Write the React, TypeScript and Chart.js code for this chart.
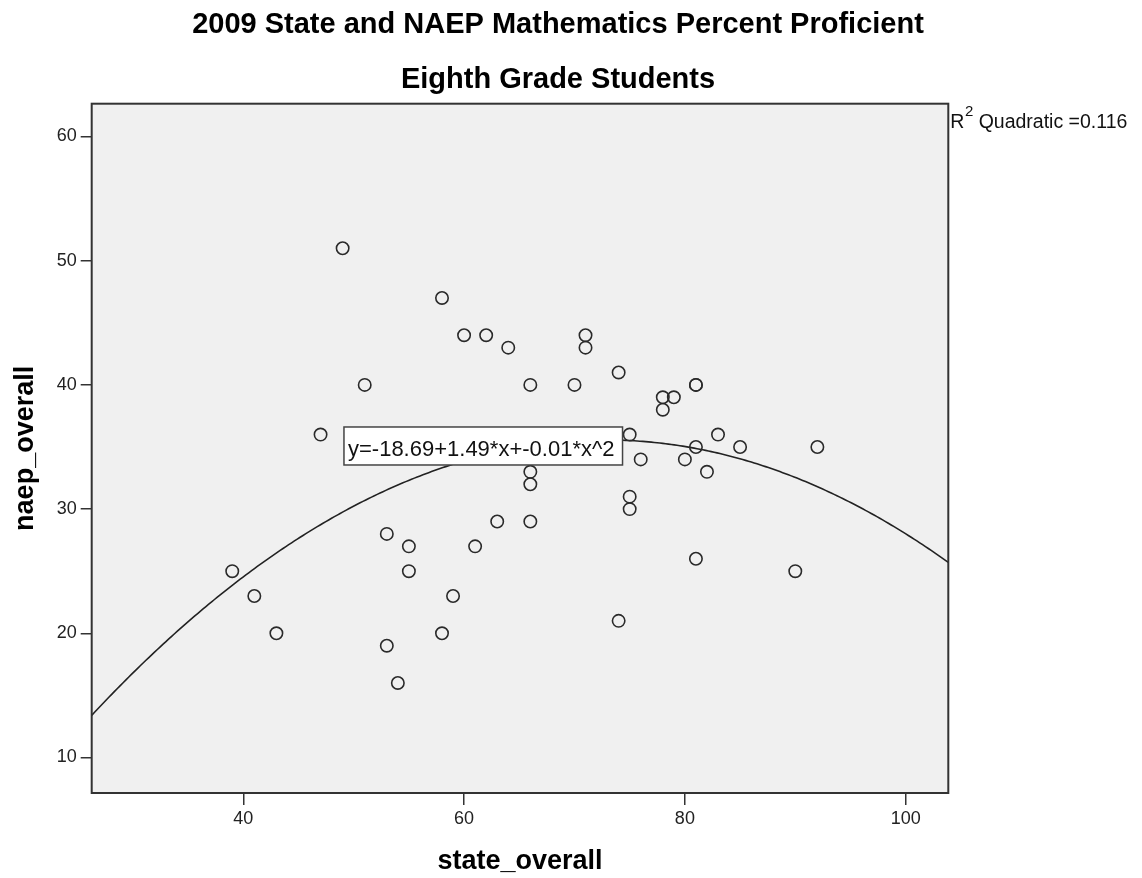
import { useEffect, useRef } from "react";
import { Chart, registerables } from "chart.js";

Chart.register(...registerables);

// ---- data ----
const STATE_OVERALL = [
  39, 41, 43, 47, 49, 51, 53, 53, 54, 55, 55, 58, 58, 59, 60, 61, 62, 63, 64, 66, 66, 66, 66,
  70, 71, 71, 74, 74, 75, 75, 75, 76, 78, 78, 79, 80, 81, 81, 81, 81, 82, 83, 85, 90, 92,
];
const NAEP_OVERALL = [
  25, 23, 20, 36, 51, 40, 28, 19, 16, 27, 25, 47, 20, 23, 44, 27, 44, 29, 43, 40, 33, 32, 29,
  40, 44, 43, 41, 21, 36, 31, 30, 34, 39, 38, 39, 34, 40, 40, 35, 26, 33, 36, 35, 25, 35,
];
const X_TICKS = [40, 60, 80, 100];
const Y_TICKS = [10, 20, 30, 40, 50, 60];
const X_RANGE = [26.27, 103.86];
const Y_RANGE = [7.14, 62.64];
// quadratic fit coefficients (y = a + b*x + c*x^2)
const FIT_A = -18.69;
const FIT_B = 1.49;
const FIT_C = -0.01023;
const TITLE_LINES = ["2009 State and NAEP Mathematics Percent Proficient", "Eighth Grade Students"];
const X_TITLE = "state_overall";
const Y_TITLE = "naep_overall";
const EQUATION_LABEL = "y=-18.69+1.49*x+-0.01*x^2";
const R2_PARTS = ["R", "2", " Quadratic =0.116"];

const FONT = "'Liberation Sans', Arial, sans-serif";

function buildCurve() {
  const pts: { x: number; y: number }[] = [];
  const steps = 300;
  for (let i = 0; i <= steps; i++) {
    const x = X_RANGE[0] + ((X_RANGE[1] - X_RANGE[0]) * i) / steps;
    pts.push({ x, y: FIT_A + FIT_B * x + FIT_C * x * x });
  }
  return pts;
}

const decorPlugin = {
  id: "spssDecor",
  beforeDraw(chart: any) {
    const { ctx, chartArea: a } = chart;
    ctx.save();
    ctx.fillStyle = "#ffffff";
    ctx.fillRect(0, 0, chart.width, chart.height);
    ctx.fillStyle = "#f0f0f0";
    ctx.fillRect(a.left, a.top, a.right - a.left, a.bottom - a.top);
    // titles
    ctx.fillStyle = "#000";
    ctx.font = `bold 29px ${FONT}`;
    ctx.textAlign = "center";
    ctx.textBaseline = "alphabetic";
    ctx.fillText(TITLE_LINES[0], 558, 33);
    ctx.fillText(TITLE_LINES[1], 558, 88);
    ctx.restore();
  },
  afterDatasetsDraw(chart: any) {
    const { ctx, chartArea: a, scales } = chart;
    ctx.save();
    // frame
    ctx.strokeStyle = "#333";
    ctx.lineWidth = 2;
    ctx.strokeRect(a.left, a.top, a.right - a.left, a.bottom - a.top);

    // equation box
    ctx.font = `22px ${FONT}`;
    const tw = ctx.measureText(EQUATION_LABEL).width;
    const bx = scales.x.getPixelForValue(49.12);
    const by = scales.y.getPixelForValue(36.61);
    const bw = tw + 12;
    const bh = 38;
    ctx.fillStyle = "#ffffff";
    ctx.fillRect(bx, by, bw, bh);
    ctx.strokeStyle = "#444";
    ctx.lineWidth = 1.5;
    ctx.strokeRect(bx, by, bw, bh);
    ctx.fillStyle = "#111";
    ctx.textAlign = "left";
    ctx.textBaseline = "alphabetic";
    ctx.fillText(EQUATION_LABEL, bx + 4, by + 29);

    // R^2 label
    let x = a.right + 2;
    const base = a.top + 24.6;
    ctx.fillStyle = "#111";
    ctx.font = `19.5px ${FONT}`;
    ctx.fillText(R2_PARTS[0], x, base);
    x += ctx.measureText(R2_PARTS[0]).width + 0.5;
    ctx.font = `15px ${FONT}`;
    ctx.fillText(R2_PARTS[1], x, base - 12);
    x += ctx.measureText(R2_PARTS[1]).width;
    ctx.font = `19.5px ${FONT}`;
    ctx.fillText(R2_PARTS[2], x, base);
    ctx.restore();
  },
};

export default function App() {
  const ref = useRef<HTMLCanvasElement | null>(null);

  useEffect(() => {
    if (!ref.current) return;
    const chart = new Chart(ref.current, {
      type: "scatter",
      data: {
        datasets: [
          {
            type: "scatter",
            label: "naep_overall",
            data: STATE_OVERALL.map((x, i) => ({ x, y: NAEP_OVERALL[i] })),
            pointStyle: "circle",
            pointRadius: 6.2,
            pointHoverRadius: 6.2,
            borderWidth: 1.6,
            borderColor: "#2a2a2a",
            backgroundColor: "rgba(0,0,0,0)",
          },
          {
            type: "line",
            label: "Quadratic fit",
            data: buildCurve(),
            borderColor: "#222",
            borderWidth: 1.6,
            pointRadius: 0,
            fill: false,
            tension: 0,
          } as any,
        ],
      },
      options: {
        animation: false,
        responsive: true,
        maintainAspectRatio: false,
        layout: { padding: { top: 103.7, right: 193.7, bottom: 0, left: 0 } },
        plugins: {
          legend: { display: false },
          tooltip: { enabled: false },
          title: { display: false },
        },
        scales: {
          x: {
            type: "linear",
            min: X_RANGE[0],
            max: X_RANGE[1],
            afterBuildTicks: (s: any) => {
              s.ticks = X_TICKS.map((v) => ({ value: v }));
            },
            afterFit: (s: any) => {
              s.height = 85;
            },
            grid: {
              display: true,
              drawOnChartArea: false,
              drawTicks: true,
              tickLength: 12,
              color: "#333",
              lineWidth: 1.5,
            },
            border: { display: false },
            ticks: {
              padding: 3,
              color: "#222",
              font: { family: FONT, size: 18 },
              maxRotation: 0,
            },
            title: {
              display: true,
              text: X_TITLE,
              color: "#000",
              font: { family: FONT, size: 27, weight: "bold", lineHeight: 1.2 },
              padding: { top: 16, bottom: 0 },
            },
          },
          y: {
            type: "linear",
            min: Y_RANGE[0],
            max: Y_RANGE[1],
            afterBuildTicks: (s: any) => {
              s.ticks = Y_TICKS.map((v) => ({ value: v }));
            },
            afterFit: (s: any) => {
              s.width = 91.7;
            },
            grid: {
              display: true,
              drawOnChartArea: false,
              drawTicks: true,
              tickLength: 11,
              color: "#333",
              lineWidth: 1.5,
            },
            border: { display: false },
            ticks: {
              padding: 4,
              color: "#222",
              font: { family: FONT, size: 18 },
            },
            title: {
              display: true,
              text: Y_TITLE,
              color: "#000",
              font: { family: FONT, size: 27, weight: "bold", lineHeight: 1.2 },
              padding: { top: 9.4, bottom: 11 },
            },
          },
        },
      },
      plugins: [decorPlugin],
    });
    return () => chart.destroy();
  }, []);

  return (
    <div
      style={{
        position: "fixed",
        left: 0,
        top: 0,
        width: 1142,
        height: 878,
        background: "#fff",
      }}
    >
      <canvas ref={ref} />
    </div>
  );
}
